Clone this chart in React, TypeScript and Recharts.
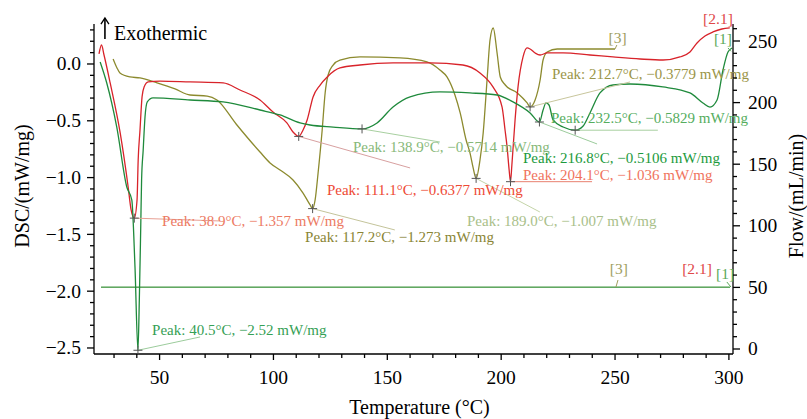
import { LineChart, Line, XAxis, YAxis, ReferenceLine, ReferenceDot } from 'recharts';

const FONT = '"Liberation Serif", "Times New Roman", serif';

// axis ticks
const tempTicks = [30, 40, 50, 60, 70, 80, 90, 100, 110, 120, 130, 140, 150, 160, 170, 180, 190, 200, 210, 220, 230, 240, 250, 260, 270, 280, 290, 300];
const tempLabels = [50, 100, 150, 200, 250, 300];
const dscTicks = [-2.5, -2.4, -2.3, -2.2, -2.1, -2.0, -1.9, -1.8, -1.7, -1.6, -1.5, -1.4, -1.3, -1.2, -1.1, -1.0, -0.9, -0.8, -0.7, -0.6, -0.5, -0.4, -0.3, -0.2, -0.1, 0, 0.1, 0.2, 0.3];
const dscLabels = [-2.5, -2.0, -1.5, -1.0, -0.5, 0];
const flowTicks = [0, 10, 20, 30, 40, 50, 60, 70, 80, 90, 100, 110, 120, 130, 140, 150, 160, 170, 180, 190, 200, 210, 220, 230, 240, 250, 260];
const flowLabels = [0, 50, 100, 150, 200, 250];

// [1] green run
const run1T = [23.9, 26.8, 31.2, 35.6, 37.8, 39.2, 40.5, 41.1, 41.7, 42.1, 42.8, 43.6, 44.6, 47.1, 63.4, 77.9, 94.1, 102.9, 111.7, 116.1, 126.2, 138.9, 145.5, 152.5, 160.0, 173.1, 186.3, 198.2, 205.2, 212.7, 216.8, 218.4, 219.7, 221.0, 222.8, 227.2, 232.5, 236.0, 239.0, 243.4, 249.1, 256.6, 271.0, 282.9, 288.6, 291.7, 294.8, 297.4, 299.6, 301.4];
const run1D = [0.018, -0.167, -0.555, -1.083, -1.197, -1.787, -2.52, -2.077, -1.461, -1.021, -0.757, -0.467, -0.334, -0.299, -0.317, -0.334, -0.405, -0.449, -0.519, -0.537, -0.555, -0.571, -0.519, -0.379, -0.29, -0.246, -0.255, -0.273, -0.334, -0.431, -0.511, -0.405, -0.343, -0.361, -0.493, -0.555, -0.583, -0.546, -0.431, -0.255, -0.185, -0.176, -0.202, -0.255, -0.343, -0.379, -0.317, -0.053, 0.106, 0.141];

// [2.1] red run
const run21T = [23.4, 24.5, 25.6, 28.3, 32.7, 36.2, 37.5, 38.9, 40.1, 40.6, 41.4, 42.3, 43.2, 45.0, 50.2, 63.4, 77.9, 85.3, 94.1, 99.8, 105.9, 108.6, 111.1, 113.0, 114.8, 117.4, 120.5, 123.6, 129.2, 138.0, 152.5, 168.7, 183.2, 190.7, 196.4, 200.4, 201.7, 202.6, 203.5, 204.1, 204.7, 206.1, 207.4, 209.6, 211.4, 212.7, 214.9, 217.1, 220.2, 227.2, 239.0, 249.1, 261.0, 271.1, 278.5, 282.9, 286.0, 289.5, 293.0, 296.9, 300.4];
const run21D = [0.088, 0.167, 0.079, -0.167, -0.607, -1.083, -1.285, -1.357, -1.197, -0.845, -0.581, -0.29, -0.202, -0.158, -0.15, -0.158, -0.167, -0.229, -0.317, -0.423, -0.519, -0.599, -0.638, -0.581, -0.493, -0.29, -0.185, -0.114, -0.035, -0.009, 0.009, 0.009, -0.009, -0.079, -0.202, -0.379, -0.581, -0.731, -0.933, -1.036, -0.889, -0.493, -0.202, 0.062, 0.141, 0.132, 0.097, 0.079, 0.097, 0.097, 0.079, 0.062, 0.044, 0.035, 0.062, 0.106, 0.185, 0.246, 0.282, 0.308, 0.317];

// [3] olive run
const run3T = [29.6, 31.3, 32.6, 37.0, 41.4, 48.9, 56.8, 63.4, 70.9, 75.2, 83.6, 94.1, 98.5, 102.9, 108.6, 113.0, 116.1, 117.2, 118.3, 119.6, 121.4, 122.7, 124.0, 126.2, 129.2, 138.0, 155.6, 167.4, 173.1, 176.2, 179.7, 182.0, 184.6, 186.3, 187.7, 189.0, 190.7, 192.1, 193.8, 195.1, 196.5, 198.2, 199.6, 201.8, 207.1, 211.4, 212.7, 214.9, 217.1, 218.4, 220.2, 224.6, 239.0, 250.0];
const run3D = [0.044, -0.035, -0.079, -0.114, -0.123, -0.167, -0.22, -0.273, -0.282, -0.317, -0.528, -0.775, -0.871, -0.933, -1.021, -1.136, -1.241, -1.273, -1.197, -0.96, -0.581, -0.255, -0.097, -0.009, 0.035, 0.062, 0.053, 0.018, -0.053, -0.114, -0.273, -0.431, -0.669, -0.783, -0.915, -1.007, -0.845, -0.607, -0.141, 0.211, 0.317, 0.097, -0.114, -0.185, -0.255, -0.343, -0.378, -0.317, -0.141, 0.035, 0.106, 0.132, 0.132, 0.132];

// purge gas flow (mL/min), same for all runs
const flowT = [24.3, 300.4];
const flow1V = [50, 50];
const flow21V = [50, 50];
const flow3V = [50, 50];

const zip = (t: number[], d: number[]) => t.map((v, i) => ({ t: v, d: d[i] }));
const run1 = zip(run1T, run1D);
const run21 = zip(run21T, run21D);
const run3 = zip(run3T, run3D);
const flow1 = zip(flowT, flow1V);
const flow21 = zip(flowT, flow21V);
const flow3 = zip(flowT, flow3V);

// peak annotations: peak point, text anchor, leader end
const notes = [
  { t: 38.9, d: -1.357, text: 'Peak: 38.9°C, −1.357 mW/mg', tx: 51.1, ty: -1.426, lx: 76.6, ly: -1.382, color: '#ec7a63', lead: '#e8a094' },
  { t: 40.5, d: -2.52, text: 'Peak: 40.5°C, −2.52 mW/mg', tx: 46.7, ty: -2.386, lx: 67.8, ly: -2.403, color: '#35a055', lead: '#9ccc9c' },
  { t: 111.1, d: -0.6377, text: 'Peak: 111.1°C, −0.6377 mW/mg', tx: 123.5, ty: -1.153, lx: 160.0, ly: -0.915, color: '#ee4a35', lead: '#d8a0a0' },
  { t: 117.2, d: -1.273, text: 'Peak: 117.2°C, −1.273 mW/mg', tx: 113.9, ty: -1.567, lx: 153.3, ly: -1.461, color: '#8a8535', lead: '#c4c49a' },
  { t: 138.9, d: -0.5714, text: 'Peak: 138.9°C, −0.5714 mW/mg', tx: 134.9, ty: -0.775, lx: 173.1, ly: -0.687, color: '#86b878', lead: '#a8d0a0' },
  { t: 189.0, d: -1.007, text: 'Peak: 189.0°C, −1.007 mW/mg', tx: 185.0, ty: -1.426, lx: 217.0, ly: -1.303, color: '#a9c08a', lead: '#c4d4a8' },
  { t: 204.1, d: -1.036, text: 'Peak: 204.1°C, −1.036 mW/mg', tx: 209.6, ty: -1.024, lx: 239.9, ly: -1.036, color: '#f0735d', lead: '#e88070' },
  { t: 216.8, d: -0.5106, text: 'Peak: 216.8°C, −0.5106 mW/mg', tx: 209.6, ty: -0.874, lx: 242.1, ly: -0.704, color: '#1c9a3c', lead: '#9ccc9c' },
  { t: 212.7, d: -0.3779, text: 'Peak: 212.7°C, −0.3779 mW/mg', tx: 222.3, ty: -0.128, lx: 256.6, ly: -0.158, color: '#9a9548', lead: '#c8c69c' },
  { t: 232.5, d: -0.5829, text: 'Peak: 232.5°C, −0.5829 mW/mg', tx: 221.9, ty: -0.517, lx: 268.8, ly: -0.583, color: '#55ad5e', lead: '#a8d0a0' },
];

// curve end labels
const dscTags = [
  { text: '[3]', t: 251.1, v: 0.185, color: '#a09e5e', from: [250.8, 0.167], to: [250.0, 0.132] },
  { text: '[2.1]', t: 295.2, v: 0.356, color: '#e04848', from: null, to: null },
  { text: '[1]', t: 297.4, v: 0.176, color: '#5aaa5a', from: [299.6, 0.141], to: [300.9, 0.112] },
];
const flowTags = [
  { text: '[3]', t: 251.7, v: 60.5, color: '#a09e5e', from: [251.3, 56], to: [250.4, 50.3] },
  { text: '[2.1]', t: 286.0, v: 60.5, color: '#e04848', from: null, to: null },
  { text: '[1]', t: 298.3, v: 56.5, color: '#5aaa5a', from: [299.1, 54.4], to: [300.9, 50.3] },
];

const isLabel = (v: number, labels: number[]) => labels.some((l) => Math.abs(l - v) < 1e-6);
const fmtDsc = (v: number) => (Math.abs(v) < 1e-9 ? '0.0' : v.toFixed(1).replace('-', '−'));

function XTick({ x, y, payload }: any) {
  const major = isLabel(payload.value, tempLabels);
  return (
    <g>
      <line x1={x} y1={y} x2={x} y2={y + (major ? 6 : 4)} stroke="#000" strokeWidth={1.3} />
      {major && (
        <text x={x} y={y + 30} textAnchor="middle" fontSize={19.5} fontFamily={FONT} fill="#000">
          {payload.value}
        </text>
      )}
    </g>
  );
}

function LeftTick({ x, y, payload }: any) {
  const major = isLabel(payload.value, dscLabels);
  return (
    <g>
      <line x1={x - (major ? 7 : 4)} y1={y} x2={x} y2={y} stroke="#000" strokeWidth={1.3} />
      {major && (
        <text x={x - 13} y={y + 6.5} textAnchor="end" fontSize={19.5} fontFamily={FONT} fill="#000">
          {fmtDsc(payload.value)}
        </text>
      )}
    </g>
  );
}

function RightTick({ x, y, payload }: any) {
  const major = isLabel(payload.value, flowLabels);
  return (
    <g>
      <line x1={x} y1={y} x2={x + (major ? 7 : 4)} y2={y} stroke="#000" strokeWidth={1.3} />
      {major && (
        <text x={x + 15} y={y + 6.5} textAnchor="start" fontSize={19.5} fontFamily={FONT} fill="#000">
          {payload.value}
        </text>
      )}
    </g>
  );
}

const title = (text: string, dx: number, dy: number, rotate: boolean, fromRight = false) => (props: any) => {
  const vb = props.viewBox || {};
  const x = fromRight ? vb.x + dx : rotate ? dx : vb.x + vb.width / 2 + dx;
  const y = rotate ? dy : vb.y + dy;
  return (
    <text
      x={x}
      y={y}
      textAnchor="middle"
      fontSize={20}
      fontFamily={FONT}
      fill="#000"
      transform={rotate ? `rotate(-90, ${x}, ${y})` : undefined}
    >
      {text}
    </text>
  );
};

const Plus = (props: any) => (
  <g stroke="#555" strokeWidth={1}>
    <line x1={props.cx - 4.5} y1={props.cy} x2={props.cx + 4.5} y2={props.cy} />
    <line x1={props.cx} y1={props.cy - 4.5} x2={props.cx} y2={props.cy + 4.5} />
  </g>
);

const textShape = (text: string, color: string, anchor: string, size = 15) => (props: any) => (
  <text x={props.cx} y={props.cy} textAnchor={anchor} fontSize={size} fontFamily={FONT} fill={color}>
    {text}
  </text>
);

// "↑ Exothermic" marker: arrow plus caption
const Exo = (props: any) => (
  <g>
    <line x1={props.cx} y1={props.cy - 1} x2={props.cx} y2={props.cy - 22} stroke="#000" strokeWidth={1.6} />
    <path d={`M${props.cx - 4},${props.cy - 16} L${props.cx},${props.cy - 22} L${props.cx + 4},${props.cy - 16}`} fill="none" stroke="#000" strokeWidth={1.3} />
    <text x={props.cx + 9} y={props.cy} fontSize={20} fontFamily={FONT} fill="#000">
      Exothermic
    </text>
  </g>
);

export default function App() {
  return (
    <div style={{ position: 'absolute', left: 0, top: 0, width: 807, height: 419, background: '#fff' }}>
      <LineChart width={807} height={419} margin={{ top: 24, right: 0, bottom: 0, left: 0 }}>
        <XAxis
          type="number"
          dataKey="t"
          domain={[21.2, 301.8]}
          allowDataOverflow
          ticks={tempTicks}
          interval={0}
          tick={(p: any) => <XTick {...p} />}
          tickLine={false}
          tickSize={0}
          tickMargin={0}
          height={65}
          axisLine={{ stroke: '#000', strokeWidth: 1.3 }}
          label={{ content: title('Temperature (°C)', 6, 60, false) }}
        />
        <YAxis
          yAxisId="dsc"
          type="number"
          domain={[-2.553, 0.352]}
          allowDataOverflow
          ticks={dscTicks}
          interval={0}
          tick={(p: any) => <LeftTick {...p} />}
          tickLine={false}
          tickSize={0}
          tickMargin={0}
          width={94}
          axisLine={{ stroke: '#000', strokeWidth: 1.3 }}
          label={{ content: title('DSC/(mW/mg)', 29, 186, true) }}
        />
        <YAxis
          yAxisId="flow"
          orientation="right"
          type="number"
          domain={[-4.06, 263.8]}
          allowDataOverflow
          ticks={flowTicks}
          interval={0}
          tick={(p: any) => <RightTick {...p} />}
          tickLine={false}
          tickSize={0}
          tickMargin={0}
          width={74}
          axisLine={{ stroke: '#000', strokeWidth: 1.3 }}
          label={{ content: title('Flow/(mL/min)', 70, 196, true, true) }}
        />

        <Line yAxisId="flow" data={flow1} dataKey="d" stroke="#62a862" strokeWidth={1.4} dot={false} activeDot={false} isAnimationActive={false} />
        <Line yAxisId="flow" data={flow21} dataKey="d" stroke="#62a862" strokeWidth={1.4} dot={false} activeDot={false} isAnimationActive={false} />
        <Line yAxisId="flow" data={flow3} dataKey="d" stroke="#62a862" strokeWidth={1.4} dot={false} activeDot={false} isAnimationActive={false} />

        <Line yAxisId="dsc" data={run3} dataKey="d" type="monotone" stroke="#8c8a2e" strokeWidth={1.3} dot={false} activeDot={false} isAnimationActive={false} />
        <Line yAxisId="dsc" data={run21} dataKey="d" type="monotone" stroke="#d8232a" strokeWidth={1.3} dot={false} activeDot={false} isAnimationActive={false} />
        <Line yAxisId="dsc" data={run1} dataKey="d" type="monotone" stroke="#1f8a3c" strokeWidth={1.3} dot={false} activeDot={false} isAnimationActive={false} />

        {notes.map((n, i) => (
          <ReferenceLine
            key={`l${i}`}
            yAxisId="dsc"
            segment={[{ x: n.t, y: n.d }, { x: n.lx, y: n.ly }]}
            stroke={n.lead}
            strokeWidth={1}
            ifOverflow="visible"
          />
        ))}
        {notes.map((n, i) => (
          <ReferenceDot key={`p${i}`} yAxisId="dsc" x={n.t} y={n.d} r={4} ifOverflow="visible" shape={Plus} />
        ))}
        {notes.map((n, i) => (
          <ReferenceDot key={`t${i}`} yAxisId="dsc" x={n.tx} y={n.ty} r={0} ifOverflow="visible" shape={textShape(n.text, n.color, 'start')} />
        ))}

        {dscTags.map((g, i) =>
          g.from ? (
            <ReferenceLine key={`dl${i}`} yAxisId="dsc" segment={[{ x: g.from[0], y: g.from[1] }, { x: g.to![0], y: g.to![1] }]} stroke={g.color} strokeWidth={1} ifOverflow="visible" />
          ) : null
        )}
        {dscTags.map((g, i) => (
          <ReferenceDot key={`dt${i}`} yAxisId="dsc" x={g.t} y={g.v} r={0} ifOverflow="visible" shape={textShape(g.text, g.color, 'middle', 15.5)} />
        ))}
        {flowTags.map((g, i) =>
          g.from ? (
            <ReferenceLine key={`fl${i}`} yAxisId="flow" segment={[{ x: g.from[0], y: g.from[1] }, { x: g.to![0], y: g.to![1] }]} stroke={g.color} strokeWidth={1} ifOverflow="visible" />
          ) : null
        )}
        {flowTags.map((g, i) => (
          <ReferenceDot key={`ft${i}`} yAxisId="flow" x={g.t} y={g.v} r={0} ifOverflow="visible" shape={textShape(g.text, g.color, 'middle', 15.5)} />
        ))}

        <ReferenceDot yAxisId="dsc" x={26.0} y={0.211} r={0} ifOverflow="visible" shape={Exo} />
      </LineChart>
    </div>
  );
}
